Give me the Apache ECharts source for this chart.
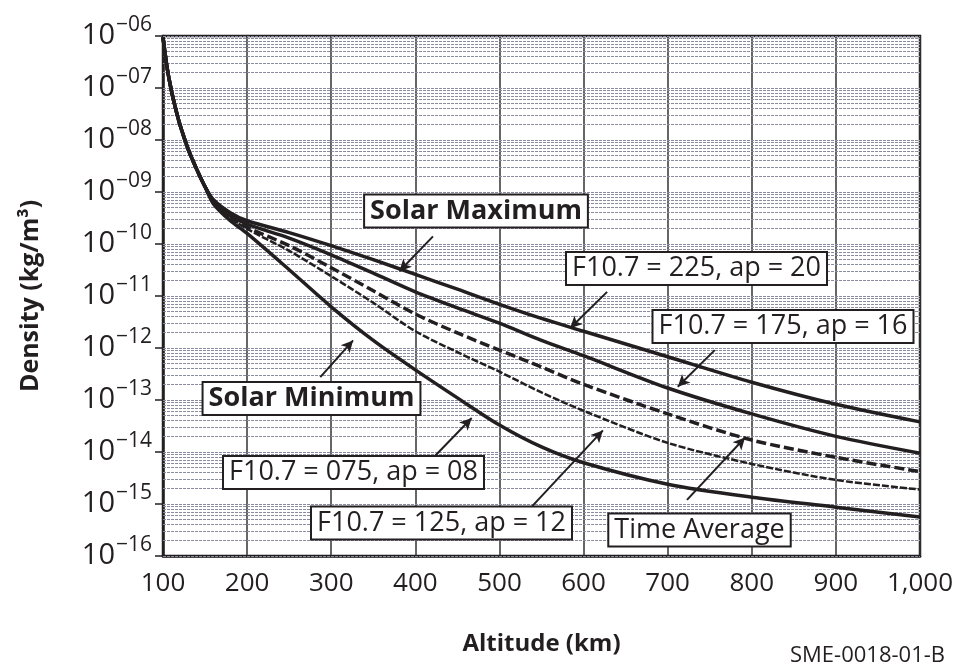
<!DOCTYPE html>
<html><head><meta charset="utf-8">
<script src="https://cdn.jsdelivr.net/npm/echarts@6/dist/echarts.min.js"></script>
<style>html,body{margin:0;padding:0;background:#fff}#c{width:971px;height:669px}</style>
</head><body><div id="c"></div>
<script>
// ---- data ----
const ALTITUDES = [100,105,110,115,120,130,140,150,160,180,200,250,300,350,400,450,500,550,600,700,800,900,1000];
const F225 = [9.5e-7,2.4e-7,8.9e-8,4.0e-8,2.0e-8,6.6e-9,2.75e-9,1.26e-9,7.1e-10,4.0e-10,2.8e-10,1.66e-10,9.3e-11,5.0e-11,2.6e-11,1.35e-11,6.9e-12,3.7e-12,2.1e-12,6.8e-13,2.2e-13,8.3e-14,3.8e-14];
const F175 = [9.5e-7,2.4e-7,8.9e-8,4.0e-8,2.0e-8,6.6e-9,2.75e-9,1.26e-9,6.8e-10,3.6e-10,2.4e-10,1.3e-10,6.2e-11,2.75e-11,1.2e-11,5.9e-12,3.0e-12,1.4e-12,7.1e-13,1.7e-13,5.4e-14,2.0e-14,9.5e-15];
const TAVG = [9.5e-7,2.4e-7,8.9e-8,4.0e-8,2.0e-8,6.6e-9,2.75e-9,1.26e-9,6.5e-10,3.3e-10,2.1e-10,9.3e-11,3.5e-11,1.26e-11,4.5e-12,1.95e-12,9.1e-13,4.3e-13,2.0e-13,5.4e-14,1.7e-14,7.9e-15,4.2e-15];
const F125 = [9.5e-7,2.4e-7,8.9e-8,4.0e-8,2.0e-8,6.6e-9,2.75e-9,1.26e-9,6.3e-10,3.2e-10,1.95e-10,7.4e-11,2.4e-11,7.4e-12,2.1e-12,8.3e-13,3.5e-13,1.4e-13,6.2e-14,1.5e-14,5.9e-15,2.9e-15,1.9e-15];
const F075 = [9.5e-7,2.4e-7,8.9e-8,4.0e-8,2.0e-8,6.6e-9,2.75e-9,1.26e-9,5.9e-10,2.8e-10,1.6e-10,3.2e-11,6.2e-12,1.4e-12,3.8e-13,1.1e-13,3.3e-14,1.25e-14,6.2e-15,2.4e-15,1.35e-15,8.7e-16,5.6e-16];

const X_TICK_LABELS = {100:'100',200:'200',300:'300',400:'400',500:'500',600:'600',700:'700',800:'800',900:'900',1000:'1,000'};
const Y_EXPONENTS = ['06','07','08','09','10','11','12','13','14','15','16'];
const MINOR_MULTS = [2,3,4,5,6,7,8,9];
const DECADES = [1e-16,1e-15,1e-14,1e-13,1e-12,1e-11,1e-10,1e-9,1e-8,1e-7];

// annotation arrows: [from, to] in data coordinates [altitude, density]
const ARROWS = [
  [[421,1.4e-10],[381,3.0e-11]],   // Solar Maximum
  [[628,1.2e-11],[584,2.4e-12]],   // F10.7 = 225
  [[756,9.1e-13],[712,1.8e-13]],   // F10.7 = 175
  [[287,2.75e-13],[326,1.4e-12]],  // Solar Minimum
  [[423,8.3e-15],[467,4.5e-14]],   // F10.7 = 075
  [[539,9.1e-16],[623,2.6e-14]],   // F10.7 = 125
  [[723,1.2e-15],[792,1.9e-14]]    // Time Average
];

const INK = '#231f20';
const GRIDGRAY = '#8a8c9e';
const FONT = '"Open Sans", "Noto Sans", sans-serif';
const pts = arr => ALTITUDES.map((a,i)=>[a, arr[i]]);

const minorLines = [];
DECADES.forEach(d => MINOR_MULTS.forEach(m => minorLines.push([{coord:[100, d*m]},{coord:[1000, d*m]}])));
DECADES.concat([1e-6]).forEach(d => minorLines.push([{coord:[100, d]},{coord:[1000, d]}]));

function curve(name, data, width, dash) {
  return {
    name, type:'line', data: pts(data), showSymbol:false, smooth:0.3,
    lineStyle:{color:INK, width, type: dash || 'solid', cap:'butt'}, z:5, silent:true, clip:true
  };
}

const chart = echarts.init(document.getElementById('c'), null, {renderer:'canvas'});
chart.setOption({
  animation:false,
  backgroundColor:'#fff',
  grid:{left:163, right:51, top:36, bottom:113, show:true, borderColor:INK, borderWidth:2.5, backgroundColor:'transparent'},
  xAxis:{
    type:'value', min:100, max:1000, interval:100,
    name:'Altitude (km)', nameLocation:'middle', nameGap:76,
    nameTextStyle:{fontFamily:FONT, fontWeight:'bold', fontSize:24, color:INK},
    axisLine:{show:true, lineStyle:{color:INK, width:2.5}},
    axisTick:{show:false},
    axisLabel:{fontFamily:FONT, fontSize:26, color:INK, margin:15, formatter:v=>X_TICK_LABELS[v]||''},
    splitLine:{show:true, lineStyle:{color:'#333', width:1.5}}
  },
  yAxis:{
    type:'log', logBase:10, min:1e-16, max:1e-6, interval:1, splitNumber:10,
    name:'Density (kg/m³)', nameLocation:'middle', nameGap:120, nameRotate:90,
    nameTextStyle:{fontFamily:FONT, fontWeight:'bold', fontSize:25, color:INK},
    axisLine:{show:true, lineStyle:{color:INK, width:2.5}},
    axisTick:{show:true, inside:false, length:8, lineStyle:{color:INK, width:1.5}},
    axisLabel:{
      margin:11, color:INK,
      formatter:v=>{ const e = Math.round(-Math.log10(v)); const s = Y_EXPONENTS.find(x=>+x===e); return '{a|10}{s|−'+s+'}'; },
      rich:{
        a:{fontFamily:FONT, fontSize:29, color:INK, verticalAlign:'middle', lineHeight:42},
        s:{fontFamily:FONT, fontSize:21, color:INK, verticalAlign:'top', lineHeight:42, padding:[0,0,0,1]}
      }
    },
    splitLine:{show:false}
  },
  series:[
    {type:'line', data:[], silent:true, z:1,
     markLine:{silent:true, symbol:['none','none'], label:{show:false}, animation:false,
       lineStyle:{color:GRIDGRAY, width:1, type:[3,1]}, emphasis:{disabled:true}, data:minorLines}},
    curve('F10.7 = 225, ap = 20', F225, 3.5),
    curve('F10.7 = 175, ap = 16', F175, 3.5),
    curve('Time Average', TAVG, 3.5, [10,4]),
    curve('F10.7 = 125, ap = 12', F125, 2.5, [7,2]),
    curve('F10.7 = 075, ap = 08', F075, 3.5),
    {type:'line', data:[], silent:true, z:20,
     markLine:{silent:true, symbol:['none','arrow'], symbolSize:[9,12], label:{show:false}, animation:false,
       lineStyle:{color:INK, width:2, type:'solid'}, emphasis:{disabled:true},
       data: ARROWS.map(a=>[{coord:a[0]},{coord:a[1]}])}}
  ],
  graphic:[
    box(476,211,'Solar Maximum',true),
    box(696.5,268.5,'F10.7 = 225, ap = 20'),
    box(783,326.5,'F10.7 = 175, ap = 16'),
    box(311.5,398.5,'Solar Minimum',true),
    box(353.5,472.5,'F10.7 = 075, ap = 08'),
    box(441.5,523,'F10.7 = 125, ap = 12'),
    box(699.5,530,'Time Average'),
    {type:'text', x:945, y:656, z:100, style:{text:'SME-0018-01-B', font:'22px '+FONT, fill:INK, align:'right', verticalAlign:'middle'}}
  ]
});

function box(x,y,text,bold){
  return {type:'text', x, y, z:100, style:{
    text, font:(bold?'bold 27px ':'27px ')+FONT, fill:INK, align:'center', verticalAlign:'middle',
    backgroundColor:'#fff', borderColor:INK, borderWidth:2, padding:[0,5,0,5], lineHeight:31
  }};
}
</script>
</body></html>
